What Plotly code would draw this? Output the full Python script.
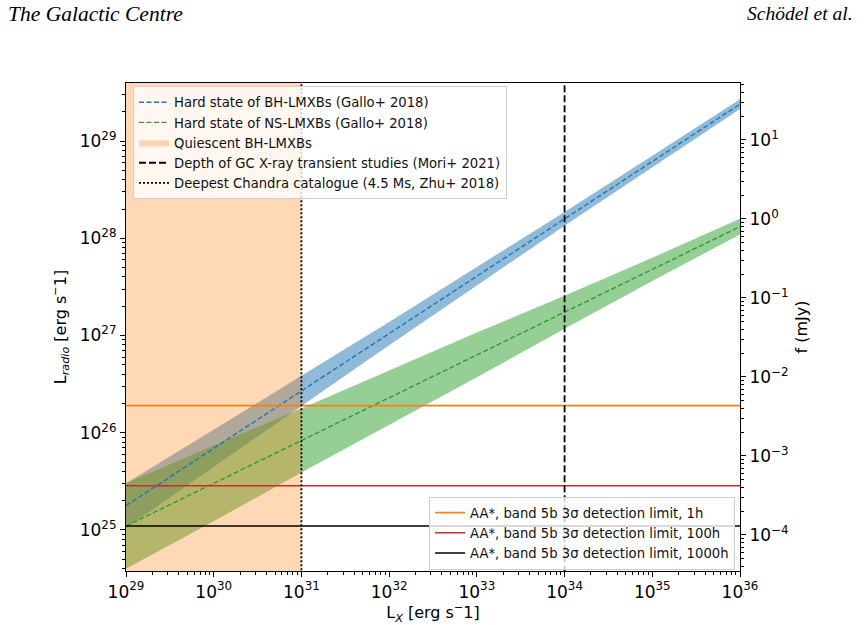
import plotly.graph_objects as go

# ---------------- data ----------------
log_lx = [29, 30, 31, 32, 33, 34, 35, 36]
bh_center = [25.25, 25.84, 26.43, 27.02, 27.61, 28.20, 28.79, 29.38]
bh_upper = [25.48, 26.03, 26.585, 27.14, 27.705, 28.27, 28.85, 29.43]
bh_lower = [25.02, 25.65, 26.275, 26.90, 27.515, 28.13, 28.73, 29.33]
ns_center = [25.04, 25.48, 25.92, 26.36, 26.80, 27.24, 27.68, 28.12]
ns_upper = [25.48, 25.87, 26.25, 26.64, 27.03, 27.41, 27.80, 28.20]
ns_lower = [24.60, 25.09, 25.59, 26.08, 26.57, 27.07, 27.56, 28.04]

quiescent_lx = [1e29, 1e31]
mori_depth_lx = 1e34
zhu_depth_lx = 1e31

detection_limits = [1.9e26, 2.85e25, 1.1e25]
detection_names = [
    "AA*, band 5b 3\u03c3 detection limit, 1h",
    "AA*, band 5b 3\u03c3 detection limit, 100h",
    "AA*, band 5b 3\u03c3 detection limit, 1000h",
]

x_tick_exp = [29, 30, 31, 32, 33, 34, 35, 36]
y_tick_exp = [25, 26, 27, 28, 29]
y2_tick_exp = [-4, -3, -2, -1, 0, 1]

# ---------------- styles ----------------
FONT = "DejaVu Sans"
C0, C1, C2, C3 = "#1f77b4", "#ff7f0e", "#2ca02c", "#d62728"
detection_colors = [C1, C3, "#000000"]
X_RANGE = [29, 36]
Y_RANGE = [24.578, 29.597]
Y2_RANGE = [-4.456, 1.72]


def pw(v):
    return [10.0 ** a for a in v]


def sup_label(e):
    s = str(e).replace("-", "\u2212")
    return "10<sup>" + s + "</sup>"


def minor_vals(lo, hi):
    return [k * 10.0 ** n for n in range(lo, hi) for k in range(2, 10)]


lx = pw(log_lx)
BIG = [1e15, 1e40]

fig = go.Figure()

# BH band
fig.add_trace(go.Scatter(
    x=lx + lx[::-1], y=pw(bh_upper) + pw(bh_lower)[::-1],
    fill="toself", fillcolor="rgba(31,119,180,0.5)", mode="lines",
    line=dict(width=0), showlegend=False, hoverinfo="skip"))
# NS band
fig.add_trace(go.Scatter(
    x=lx + lx[::-1], y=pw(ns_upper) + pw(ns_lower)[::-1],
    fill="toself", fillcolor="rgba(44,160,44,0.5)", mode="lines",
    line=dict(width=0), showlegend=False, hoverinfo="skip"))

# quiescent BH-LMXB region (drawn over the bands)
fig.add_trace(go.Scatter(
    x=[quiescent_lx[0], quiescent_lx[1], quiescent_lx[1], quiescent_lx[0]],
    y=[BIG[0], BIG[0], BIG[1], BIG[1]],
    fill="toself", fillcolor="rgba(255,127,14,0.3)", mode="lines",
    line=dict(width=0, color="rgba(255,127,14,0.3)"),
    name="Quiescent BH-LMXBs", legend="legend", legendrank=3, hoverinfo="skip"))

fig.add_trace(go.Scatter(
    x=lx, y=pw(bh_center), mode="lines",
    line=dict(color=C0, width=1.4, dash="5px,2.5px"),
    name="Hard state of BH-LMXBs (Gallo+ 2018)", legend="legend", legendrank=1))
fig.add_trace(go.Scatter(
    x=lx, y=pw(ns_center), mode="lines",
    line=dict(color=C2, width=1.4, dash="5px,2.5px"),
    name="Hard state of NS-LMXBs (Gallo+ 2018)", legend="legend", legendrank=2))

# detection limits
for v, nm, col, rk in zip(detection_limits, detection_names, detection_colors, [1, 2, 3]):
    fig.add_trace(go.Scatter(
        x=BIG, y=[v, v], mode="lines", line=dict(color=col, width=1.6),
        name=nm, legend="legend2", legendrank=rk))

# vertical lines
fig.add_trace(go.Scatter(
    x=[mori_depth_lx, mori_depth_lx], y=BIG, mode="lines",
    line=dict(color="black", width=1.8, dash="7px,3px"),
    name="Depth of GC X-ray transient studies (Mori+ 2021)", legend="legend", legendrank=4))
fig.add_trace(go.Scatter(
    x=[zhu_depth_lx, zhu_depth_lx], y=BIG, mode="lines",
    line=dict(color="black", width=1.8, dash="2px,2px"),
    name="Deepest Chandra catalogue (4.5 Ms, Zhu+ 2018)", legend="legend", legendrank=5))

# invisible trace to activate right axis
fig.add_trace(go.Scatter(x=[1e30], y=[1.0], yaxis="y2", mode="markers",
                         marker=dict(opacity=0), showlegend=False, hoverinfo="skip"))

axis_common = dict(
    type="log", showline=True, linecolor="black", linewidth=1.2,
    ticks="outside", ticklen=5, tickwidth=1.1, tickcolor="black",
    showgrid=False, zeroline=False, tickmode="array", automargin=False,
    tickfont=dict(family=FONT, size=17, color="black"),
)

minor_style = dict(ticks="outside", ticklen=2.5, tickwidth=0.8, tickcolor="black")

# pixel geometry
W, H = 867, 625
L, R, T, B = 126, 127, 83, 54
pw_w = W - L - R
ph_h = H - T - B

title_font = dict(family=FONT, size=16, color="black")

fig.update_layout(
    width=W, height=H,
    margin=dict(l=L, r=R, t=T, b=B, autoexpand=False),
    paper_bgcolor="white", plot_bgcolor="white",
    font=dict(family=FONT, color="black"),
    xaxis=dict(
        **axis_common, range=X_RANGE, mirror=True,
        tickvals=pw(x_tick_exp), ticktext=[sup_label(e) for e in x_tick_exp],
        minor=dict(**minor_style, tickvals=minor_vals(29, 36)),
        title=dict(text="L<sub><i>X</i></sub> [erg s<sup>\u2212</sup>1]",
                   font=title_font, standoff=0),
    ),
    yaxis=dict(
        **axis_common, range=Y_RANGE, mirror=True,
        tickvals=pw(y_tick_exp), ticktext=[sup_label(e) for e in y_tick_exp],
        minor=dict(**minor_style, tickvals=minor_vals(24, 30)),
        title=dict(text="L<sub><i>radio</i></sub> [erg s<sup>\u2212</sup>1]",
                   font=title_font, standoff=9),
    ),
    yaxis2=dict(
        **axis_common, range=Y2_RANGE, overlaying="y", side="right", anchor="x",
        tickvals=pw(y2_tick_exp), ticktext=[sup_label(e) for e in y2_tick_exp],
        minor=dict(**minor_style, tickvals=minor_vals(-5, 2)),
        title=dict(text="f (mJy)", font=title_font, standoff=8),
    ),
    legend=dict(
        x=0.0114, y=0.9935, xanchor="left", yanchor="top",
        bgcolor="rgba(255,255,255,0.8)", bordercolor="#d0d0d0", borderwidth=1,
        font=dict(family=FONT, size=13.2, color="#111111"),
        itemwidth=30, tracegroupgap=0, traceorder="normal",
    ),
    legend2=dict(
        x=0.992, y=0.003, xanchor="right", yanchor="bottom",
        bgcolor="rgba(255,255,255,0.8)", bordercolor="#d0d0d0", borderwidth=1,
        font=dict(family=FONT, size=13.2, color="#111111"),
        itemwidth=30, tracegroupgap=0, traceorder="normal",
    ),
    annotations=[
        dict(text="<i>The Galactic Centre</i>", x=(6 - L) / pw_w, y=(H - B - 14) / ph_h,
             xref="paper", yref="paper", xanchor="left", yanchor="middle",
             showarrow=False, font=dict(family="Liberation Serif", size=21.5, color="black")),
        dict(text="<i>Sch\u00f6del et al.</i>", x=(855 - L) / pw_w, y=(H - B - 14) / ph_h,
             xref="paper", yref="paper", xanchor="right", yanchor="middle",
             showarrow=False, font=dict(family="Liberation Serif", size=19.5, color="black")),
    ],
)

fig.write_html("out.html")
